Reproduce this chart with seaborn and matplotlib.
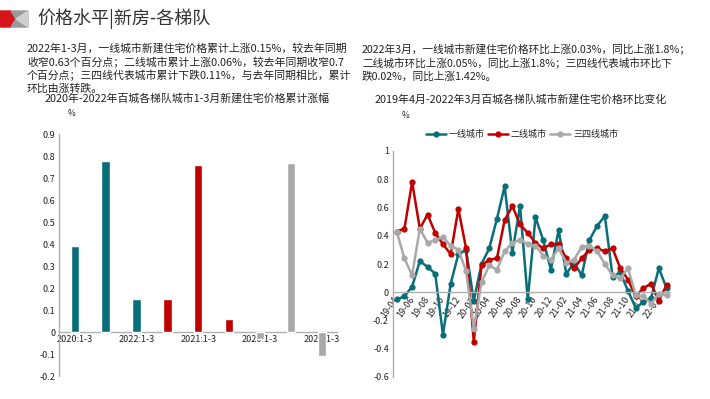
import numpy as np
import pandas as pd
import matplotlib.pyplot as plt
from matplotlib.patches import Polygon
from matplotlib.ticker import FuncFormatter, MultipleLocator
import seaborn as sns

# ==============================
# DADOS
# ==============================

tiers = ['一线城市', '二线城市', '三四线城市']
tier_colors = ['#086f79', '#c00000', '#a9a9a9']

periods = ['2020:1-3', '2021:1-3', '2022:1-3']
cum_tier1 = [0.39, 0.78, 0.15]
cum_tier2 = [0.15, 0.76, 0.06]
cum_tier34 = [-0.03, 0.77, -0.11]

month_labels = ['19-04', '19-05', '19-06', '19-07', '19-08', '19-09', '19-10', '19-11', '19-12',
                '20-01', '20-02', '20-03', '20-04', '20-05', '20-06', '20-07', '20-08', '20-09',
                '20-10', '20-11', '20-12', '21-01', '21-02', '21-03', '21-04', '21-05', '21-06',
                '21-07', '21-08', '21-09', '21-10', '21-11', '21-12', '22-01', '22-02', '22-03']
mom_tier1 = [-0.05, -0.03, 0.04, 0.22, 0.18, 0.13, -0.30, 0.06, 0.27, 0.30, -0.06, 0.20,
             0.31, 0.52, 0.75, 0.28, 0.61, -0.05, 0.53, 0.37, 0.16, 0.44, 0.13, 0.21,
             0.12, 0.37, 0.47, 0.54, 0.11, 0.14, 0.01, -0.11, -0.07, -0.04, 0.17, 0.03]
mom_tier2 = [0.43, 0.45, 0.78, 0.45, 0.55, 0.42, 0.34, 0.27, 0.59, 0.31, -0.35, 0.19,
             0.23, 0.24, 0.51, 0.61, 0.48, 0.42, 0.35, 0.31, 0.34, 0.34, 0.24, 0.17,
             0.24, 0.30, 0.31, 0.29, 0.31, 0.17, 0.09, -0.03, 0.03, 0.06, -0.06, 0.05]
mom_tier34 = [0.43, 0.24, 0.12, 0.45, 0.35, 0.37, 0.39, 0.33, 0.30, 0.15, -0.26, 0.07,
              0.19, 0.16, 0.29, 0.35, 0.37, 0.34, 0.33, 0.26, 0.23, 0.31, 0.21, 0.23,
              0.32, 0.33, 0.29, 0.20, 0.12, 0.10, 0.17, -0.02, -0.03, -0.08, -0.01, -0.02]

left_text = ('2022年1-3月，一线城市新建住宅价格累计上涨0.15%，较去年同期\n'
             '收窄0.63个百分点；二线城市累计上涨0.06%，较去年同期收窄0.7\n'
             '个百分点；三四线代表城市累计下跌0.11%，与去年同期相比，累计\n'
             '环比由涨转跌。')
right_text = ('2022年3月，一线城市新建住宅价格环比上涨0.03%，同比上涨1.8%；\n'
              '二线城市环比上涨0.05%，同比上涨1.8%；三四线代表城市环比下\n'
              '跌0.02%，同比上涨1.42%。')

# ==============================
# TABELAS
# ==============================

df_bar = pd.DataFrame({
    'pos': list(range(9)),
    'value': cum_tier1 + cum_tier2 + cum_tier34,
    'tier': [t for t in tiers for _ in periods],
})
bar_ticklabels = (periods * 3)[::2]

df_line = pd.DataFrame({
    'idx': list(range(len(month_labels))) * 3,
    'value': mom_tier1 + mom_tier2 + mom_tier34,
    'tier': [t for t in tiers for _ in month_labels],
})

# ==============================
# ESTILO
# ==============================

sns.set_style('white')
plt.rcParams['font.family'] = ['Noto Sans CJK SC', 'DejaVu Sans']
plt.rcParams['axes.unicode_minus'] = False

W, H = 710, 399
fig = plt.figure(figsize=(7.1, 3.99), dpi=100)


def fx(px):
    return px / W


def fy(py):
    return 1 - py / H


text_color = '#222222'
axis_color = '#b0b0b0'

# cabeçalho
fig.patches.append(Polygon([(fx(0), fy(11)), (fx(11), fy(11)), (fx(16), fy(19)), (fx(11), fy(27)),
                            (fx(0), fy(27))], closed=True, transform=fig.transFigure,
                           color='#d7141a', zorder=1))
fig.patches.append(Polygon([(fx(11), fy(11)), (fx(28), fy(11)), (fx(28), fy(27)), (fx(11), fy(27)),
                            (fx(16), fy(19))], closed=True, transform=fig.transFigure,
                           color='#9a9a9a', zorder=1))
fig.patches.append(Polygon([(fx(16), fy(19)), (fx(28), fy(11)), (fx(28), fy(27))], closed=True,
                           transform=fig.transFigure, color='#cfcfcf', zorder=2))
fig.text(fx(37), fy(19), '价格水平|新房-各梯队', fontsize=13, color='#333333', va='center', ha='left')

fig.text(fx(27), fy(43), left_text, fontsize=7.8, color=text_color, va='top', ha='left',
         linespacing=1.25)
fig.text(fx(362), fy(44), right_text, fontsize=7.7, color=text_color, va='top', ha='left',
         linespacing=1.25)

fig.text(fx(187), fy(98), '2020年-2022年百城各梯队城市1-3月新建住宅价格累计涨幅', fontsize=7.8,
         color=text_color, ha='center', va='center')
fig.text(fx(521), fy(99), '2019年4月-2022年3月百城各梯队城市新建住宅价格环比变化', fontsize=7.8,
         color=text_color, ha='center', va='center')

fig.text(fx(72), fy(114), '%', fontsize=6, color=text_color, ha='center', va='center')
fig.text(fx(406), fy(116), '%', fontsize=6, color=text_color, ha='center', va='center')


def fmt_tick(v, pos):
    if abs(v) < 1e-9:
        return '0'
    if abs(v - round(v)) < 1e-9:
        return f'{int(round(v))}'
    return f'{v:.1f}'


# ==============================
# GRÁFICO DE BARRAS
# ==============================

ax1 = fig.add_axes([fx(59.3), fy(376), fx(337.3) - fx(59.3), fy(134.3) - fy(376)])
sns.barplot(data=df_bar, x='pos', y='value', hue='tier', hue_order=tiers, palette=tier_colors,
            dodge=False, width=0.27, saturation=1, legend=False, ax=ax1, zorder=3)
ax1.set_xlim(-0.5, 8.5)
ax1.set_ylim(-0.2, 0.9)
ax1.set_xlabel('')
ax1.set_ylabel('')
ax1.spines['top'].set_visible(False)
ax1.spines['right'].set_visible(False)
ax1.spines['bottom'].set_position(('data', 0))
for s in ['left', 'bottom']:
    ax1.spines[s].set_color(axis_color)
    ax1.spines[s].set_linewidth(1)
ax1.set_yticks(np.arange(-0.2, 0.91, 0.1))
ax1.yaxis.set_major_formatter(FuncFormatter(fmt_tick))
ax1.set_xticks(range(0, 9, 2))
ax1.set_xticklabels(bar_ticklabels)
ax1.xaxis.set_minor_locator(MultipleLocator(1, offset=0.5))
ax1.tick_params(axis='x', which='major', length=0, pad=2, labelsize=6.5, labelcolor=text_color)
ax1.tick_params(axis='x', which='minor', length=3, direction='out', color=axis_color)
ax1.tick_params(axis='y', length=3, direction='in', color=axis_color, labelsize=6.5,
                labelcolor=text_color, pad=3)

# ==============================
# GRÁFICO DE LINHAS
# ==============================

ax2 = fig.add_axes([fx(393), fy(377), fx(670) - fx(393), fy(151) - fy(377)])
sns.lineplot(data=df_line, x='idx', y='value', hue='tier', hue_order=tiers, palette=tier_colors,
             marker='o', markersize=4.5, markeredgewidth=0, linewidth=1.8, ax=ax2)
ax2.set_xlim(-0.48, 35.45)
ax2.set_ylim(-0.6, 1.0)
ax2.set_xlabel('')
ax2.set_ylabel('')
ax2.spines['top'].set_visible(False)
ax2.spines['right'].set_visible(False)
ax2.spines['bottom'].set_position(('data', 0))
for s in ['left', 'bottom']:
    ax2.spines[s].set_color(axis_color)
    ax2.spines[s].set_linewidth(1)
ax2.set_yticks(np.arange(-0.6, 1.01, 0.2))
ax2.yaxis.set_major_formatter(FuncFormatter(fmt_tick))
ax2.set_xticks(range(0, len(month_labels), 2))
ax2.set_xticklabels(month_labels[::2], rotation=55, ha='right', va='center', rotation_mode='anchor')
ax2.xaxis.set_minor_locator(MultipleLocator(1))
ax2.tick_params(axis='x', which='both', length=3, direction='in', color=axis_color, pad=4,
                labelsize=6.5, labelcolor=text_color)
ax2.tick_params(axis='y', length=3, direction='in', color=axis_color, labelsize=6.5,
                labelcolor=text_color, pad=3)

handles, labels = ax2.get_legend_handles_labels()
ax2.legend(handles, labels, loc='center', bbox_to_anchor=(0.466, 1.075), ncol=3, frameon=False,
           fontsize=6.5, handlelength=2.2, handletextpad=0.3, columnspacing=0.4,
           labelcolor=text_color)

fig.savefig('out.png', dpi=100)
